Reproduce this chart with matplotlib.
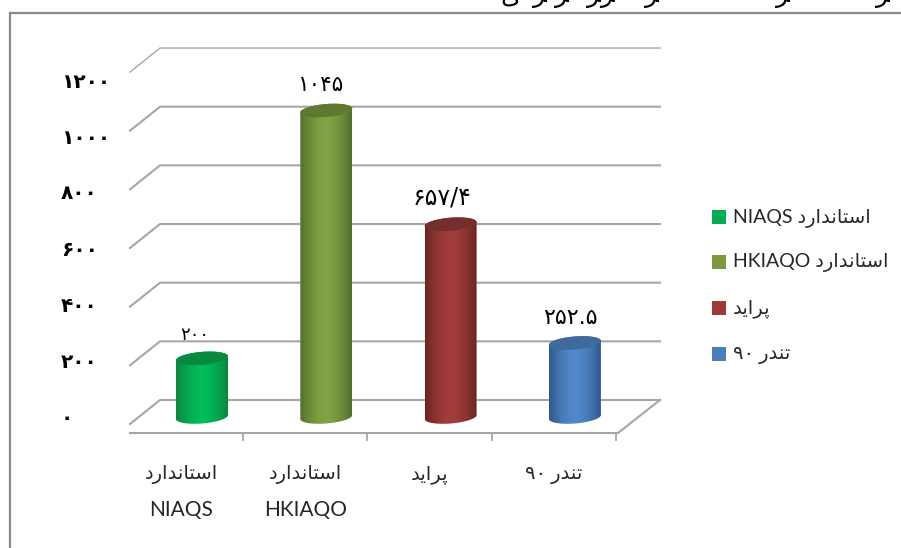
import matplotlib
matplotlib.use("Agg")
import matplotlib.pyplot as plt
import numpy as np
from matplotlib.patches import Polygon, Rectangle
from matplotlib.lines import Line2D

categories = ["استاندارد\nNIAQS", "استاندارد\nHKIAQO", "پراید", "تندر ۹۰"]
legend_labels = ["استاندارد NIAQS", "استاندارد HKIAQO", "پراید", "تندر ۹۰"]
values = [200, 1045, 657.4, 252.5]
value_labels = ["۲۰۰", "۱۰۴۵", "۶۵۷/۴", "۲۵۲.۵"]
y_ticks = [0, 200, 400, 600, 800, 1000, 1200]
y_tick_labels = ["۰", "۲۰۰", "۴۰۰", "۶۰۰", "۸۰۰", "۱۰۰۰", "۱۲۰۰"]

body_edge = ["#0b8540", "#55702c", "#6a2523", "#2f5a8c"]
body_mid = ["#00bd58", "#82a343", "#a23d3b", "#5289cb"]
top_color = ["#078a3f", "#5f7a30", "#742f2d", "#3e6a9c"]
legend_colors = ["#00ad50", "#7f9a3e", "#9b3a38", "#4a7ebb"]

# tails of the caption line cut off by the top edge
cut_line_x = [510, 540, 562, 601, 652, 783, 883]
cut_line_chars = ["\ufbfc", "\ufeae", "\ufeae", "\ufeae\ufeae", "\ufeae", "\ufeae", "\ufeae"]

W, H = 901, 548
PX_X = 124.3      # pixels per category
PX_Y = 0.2933     # pixels per value unit
GRID = "#a6a6a6"
TEXT = "#262626"

label_size = [13, 15.5, 17, 16]
label_shift = [-7, -6, -9, -5]
label_gap = [23, 26, 27, 25]

# presentation forms: isolated, final, initial, medial
FORMS = {
    "ا": ("\ufe8d", "\ufe8e", None, None),
    "د": ("\ufea9", "\ufeaa", None, None),
    "ر": ("\ufead", "\ufeae", None, None),
    "س": ("\ufeb1", "\ufeb2", "\ufeb3", "\ufeb4"),
    "ت": ("\ufe95", "\ufe96", "\ufe97", "\ufe98"),
    "ن": ("\ufee5", "\ufee6", "\ufee7", "\ufee8"),
    "پ": ("\ufb56", "\ufb57", "\ufb58", "\ufb59"),
    "ی": ("\ufbfc", "\ufbfd", "\ufbfe", "\ufbff"),
}


def shape_word(word):
    out = []
    for i, c in enumerate(word):
        prev_joins = i > 0 and FORMS[word[i - 1]][2] is not None
        next_joins = i < len(word) - 1 and FORMS[c][2] is not None
        if prev_joins and next_joins:
            out.append(FORMS[c][3])
        elif prev_joins:
            out.append(FORMS[c][1])
        elif next_joins:
            out.append(FORMS[c][2])
        else:
            out.append(FORMS[c][0])
    return "".join(reversed(out))


def rtl(text):
    # words run right to left, digits and latin stay as written
    words = []
    for w in text.split(" "):
        words.append(shape_word(w) if w[0] in FORMS else w)
    return " ".join(reversed(words))


def px(x, y):
    # figure pixel position to data position
    return (x - 202) / PX_X, (400 - y) / PX_Y


def cylinder(ax, i, value):
    half_w = 26 / PX_X
    ry = 6.5 / PX_Y
    tilt = 2.0 / PX_Y
    base = -17 / PX_Y
    t = np.linspace(0, 2 * np.pi, 120)
    ex = i + half_w * np.cos(t)
    ey = ry * np.sin(t) + tilt * np.cos(t)

    front = t[(t >= np.pi)]
    low_x = i + half_w * np.cos(front)
    low_y = base + ry * np.sin(front) + tilt * np.cos(front)
    back = t[(t <= np.pi)]
    up_x = i + half_w * np.cos(back)
    up_y = value + base + ry * np.sin(back) + tilt * np.cos(back)
    outline = Polygon(np.column_stack([np.r_[low_x, up_x], np.r_[low_y, up_y]]),
                      closed=True, facecolor="none", edgecolor="none", zorder=3)
    ax.add_patch(outline)

    edge = np.array(matplotlib.colors.to_rgb(body_edge[i]))
    mid = np.array(matplotlib.colors.to_rgb(body_mid[i]))
    s = np.abs(np.linspace(-1, 1, 104))[None, :, None] ** 1.6
    grad = mid * (1 - s) + edge * s
    im = ax.imshow(grad, extent=[i - half_w, i + half_w, base - 2 * ry, value + base + 2 * ry],
                   aspect="auto", zorder=3, interpolation="bilinear")
    im.set_clip_path(outline)
    ax.add_patch(Polygon(np.column_stack([ex, value + base + ey]), closed=True,
                         facecolor=top_color[i], edgecolor="none", zorder=4))


fig = plt.figure(figsize=(W / 100, H / 100), dpi=100)
ax = fig.add_axes([0, 0, 1, 1])
ax.set_xlim(px(0, 0)[0], px(W, 0)[0])
ax.set_ylim(px(0, H)[1], px(0, 0)[1])
ax.axis("off")

# outer frame
for xs, ys in [((9.5, W), (13, 13)), ((9.5, 9.5), (13, H))]:
    p = [px(a, b) for a, b in zip(xs, ys)]
    ax.add_line(Line2D([p[0][0], p[1][0]], [p[0][1], p[1][1]], color="#8a8a8a", lw=1.6, zorder=1))

# back wall gridlines with their slanted left side
for v in y_ticks:
    wall_x = [px(130, 0)[0], px(160, 0)[0], px(660, 0)[0]]
    wall_y = [v - 24 / PX_Y, v, v]
    ax.add_line(Line2D(wall_x, wall_y, color=GRID, lw=1.5 if v != 1200 else 1.0, zorder=2))

# floor edge and ticks
floor = [px(130, 433), px(618, 433), px(660, 400)]
ax.add_line(Line2D([p[0] for p in floor], [p[1] for p in floor], color=GRID, lw=1.5, zorder=2))
for k in range(len(categories)):
    tx = k + 0.5 - 21 / PX_X
    ax.add_line(Line2D([tx, tx], [px(0, 433)[1], px(0, 440)[1]], color=GRID, lw=1.3, zorder=2))

for i, v in enumerate(values):
    cylinder(ax, i, v)

fa = ["Lato", "DejaVu Sans"]
# axis numbers run on a slightly tighter spacing than the wall lines
for v, lab in zip(y_ticks, y_tick_labels):
    ax.text(px(61, 0)[0], px(0, 418 - v * 0.28)[1], lab, fontsize=14.5, fontweight="bold",
            family="DejaVu Sans", ha="left", va="center", color="black")

# value labels sit above each cylinder
for i, (v, lab) in enumerate(zip(values, value_labels)):
    ax.text(i + label_shift[i] / PX_X, v - 17 / PX_Y + label_gap[i] / PX_Y, lab,
            fontsize=label_size[i], family="DejaVu Sans", ha="center", va="center",
            color="black", zorder=5)

for i, cat in enumerate(categories):
    lines = cat.split("\n")
    ax.text(i - 21 / PX_X, px(0, 475)[1], rtl(lines[0]), fontsize=14, family=fa,
            ha="center", va="center", color=TEXT)
    if len(lines) > 1:
        ax.text(i - 21 / PX_X, px(0, 510)[1], lines[1], fontsize=15, family=fa,
                ha="center", va="center", color=TEXT)

# legend
legend_y = [217, 262, 308, 354]
for lab, col, ly in zip(legend_labels, legend_colors, legend_y):
    x0, y0 = px(712, ly + 7)
    x1, y1 = px(726, ly - 7)
    ax.add_patch(Rectangle((x0, y0), x1 - x0, y1 - y0, facecolor=col, edgecolor="none", zorder=3))
    ax.text(px(733, 0)[0], px(0, ly + 1)[1], rtl(lab), fontsize=14, family=fa,
            ha="left", va="center", color=TEXT)

for x, ch in zip(cut_line_x, cut_line_chars):
    ax.text(px(x, 0)[0], px(0, 2)[1], ch, fontsize=18, family="DejaVu Sans",
            ha="center", va="baseline", color="black")

fig.savefig("out.png", dpi=100, facecolor="white")
